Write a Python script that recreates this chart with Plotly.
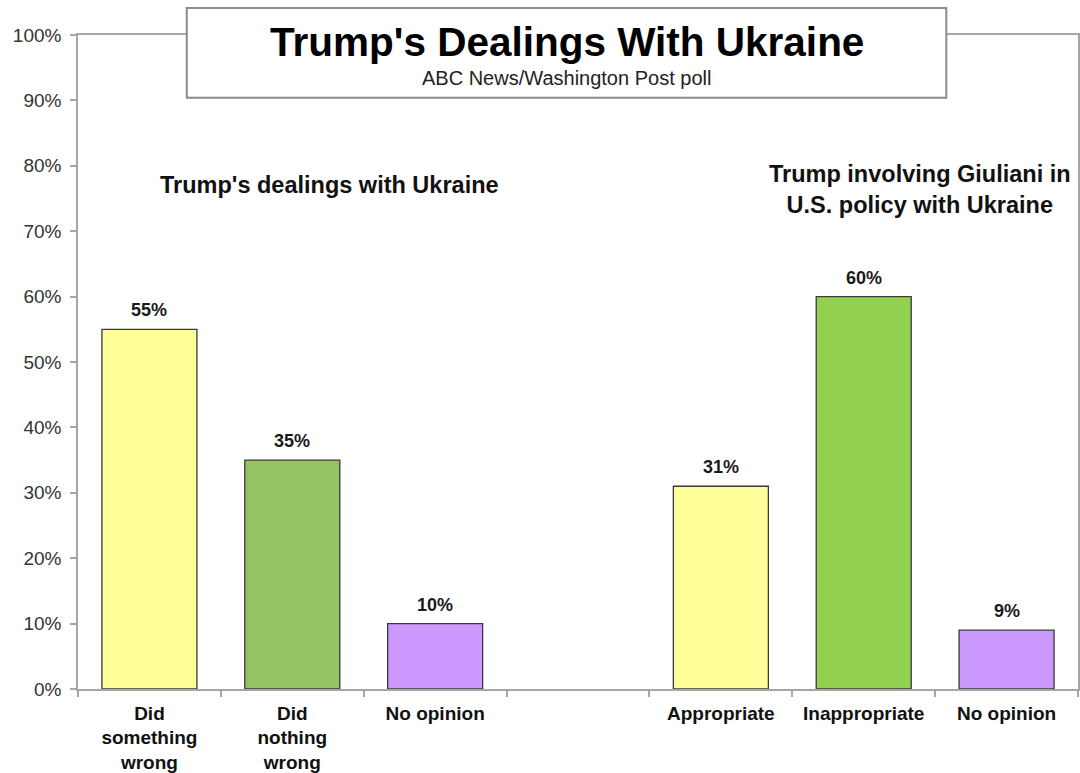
import plotly.graph_objects as go

# ---- data ----
categories = ["Did<br>something<br>wrong", "Did<br>nothing<br>wrong", "No opinion", "",
              "Appropriate", "Inappropriate", "No opinion"]
values = [55, 35, 10, None, 31, 60, 9]
value_labels = ["55%", "35%", "10%", "", "31%", "60%", "9%"]
bar_colors = ["#FFFF99", "#97C463", "#CC99FF", "#FFFFFF", "#FFFF99", "#92D050", "#CC99FF"]
y_ticks = [0, 10, 20, 30, 40, 50, 60, 70, 80, 90, 100]
y_tick_labels = [f"{v}%" for v in y_ticks]

title_text = "Trump's Dealings With Ukraine"
subtitle_text = "ABC News/Washington Post poll"
group_titles = ["Trump's dealings with Ukraine",
                "Trump involving Giuliani in<br>U.S. policy with Ukraine"]

FONT = "Liberation Sans, Arial, sans-serif"
positions = list(range(len(categories)))

fig = go.Figure()
fig.add_trace(go.Bar(
    x=positions, y=values,
    marker=dict(color=bar_colors, line=dict(color="#3A3A3A", width=1.3)),
    width=0.665, hoverinfo="skip", showlegend=False,
))

annotations = []
for xi, v, t in zip(positions, values, value_labels):
    if v is None:
        continue
    annotations.append(dict(
        x=xi, y=v, xref="x", yref="y", text=t, showarrow=False,
        yanchor="bottom", yshift=7,
        font=dict(family=FONT, size=18, color="#1A1A1A", weight="bold"),
    ))

annotations += [
    dict(x=0.4885, y=0.990, xref="paper", yref="paper", text=title_text,
         showarrow=False, xanchor="center", yanchor="middle",
         font=dict(family=FONT, size=40.5, color="#000000", weight="bold")),
    dict(x=0.4885, y=0.935, xref="paper", yref="paper", text=subtitle_text,
         showarrow=False, xanchor="center", yanchor="middle",
         font=dict(family=FONT, size=20, color="#222222")),
    dict(x=0.2515, y=0.770, xref="paper", yref="paper", text=group_titles[0],
         showarrow=False, xanchor="center", yanchor="middle",
         font=dict(family=FONT, size=23.5, color="#111111", weight="bold")),
    dict(x=0.8415, y=0.763, xref="paper", yref="paper", text=group_titles[1],
         showarrow=False, xanchor="center", yanchor="middle",
         font=dict(family=FONT, size=23.5, color="#111111", weight="bold")),
]

fig.update_layout(
    width=1080, height=773,
    margin=dict(l=78, r=0, t=35, b=81),
    paper_bgcolor="white", plot_bgcolor="white",
    annotations=annotations,
    shapes=[dict(type="rect", xref="paper", yref="paper",
                 x0=0.1088, x1=0.8683, y0=0.9041, y1=1.0411,
                 line=dict(color="#8C8C8C", width=2), fillcolor="white",
                 layer="above")],
    bargap=0.33,
)

fig.update_xaxes(
    range=[-0.5, len(categories) - 0.5],
    tickmode="array", tickvals=positions, ticktext=categories,
    ticks="", showgrid=False, zeroline=False, ticklabelstandoff=6,
    showline=True, linecolor="#A6A6A6", linewidth=1.5, mirror=True,
    tickfont=dict(family=FONT, size=19, color="#111111", weight="bold"),
    minor=dict(ticks="outside", ticklen=6, tick0=0.5, dtick=1,
               tickcolor="#A6A6A6", tickwidth=1.5, showgrid=False),
)
fig.update_yaxes(
    range=[0, 100], tickmode="array", tickvals=y_ticks, ticktext=y_tick_labels,
    ticks="outside", ticklen=6, tickcolor="#A6A6A6", tickwidth=1.5,
    showgrid=False, zeroline=False, ticklabelstandoff=5,
    showline=True, linecolor="#A6A6A6", linewidth=1.5, mirror=True,
    tickfont=dict(family=FONT, size=19, color="#333333"),
)

fig.write_html(
    "out.html",
    config={"displayModeBar": False},
    post_script="document.body.style.margin='0';document.body.style.overflow='hidden';",
)
